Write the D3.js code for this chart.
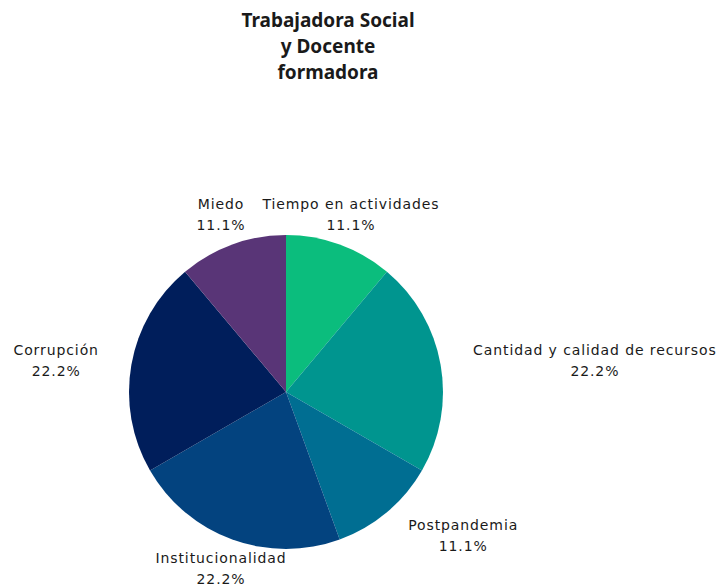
<!DOCTYPE html>
<html>
<head>
<meta charset="utf-8">
<script src="https://cdn.jsdelivr.net/npm/d3@7"></script>
<style>
  body { margin: 0; background: #fff; }
  text { font-family: "Noto Sans", sans-serif; fill: #1a1a1a; }
</style>
</head>
<body>
<div id="chart"></div>
<script>
// Data
const categories = ["Tiempo en actividades", "Cantidad y calidad de recursos", "Postpandemia",
                    "Institucionalidad", "Corrupción", "Miedo"];
const counts = [1, 2, 1, 2, 2, 1];
const colors = ["#0bbd7d", "#00958f", "#006e92", "#03437f", "#001e5b", "#593577"];
const titleLines = ["Trabajadora Social", "y Docente", "formadora"];

const width = 719;
const height = 587;
const cx = 286, cy = 392;
const radius = 157;
const labelRadius = 190;

const svg = d3.select("#chart")
    .append("svg")
    .attr("width", width)
    .attr("height", height);

// Title
svg.append("g")
    .selectAll("text")
    .data(titleLines)
    .enter().append("text")
    .attr("x", 328)
    .attr("y", (d, i) => 27 + i * 26)
    .attr("text-anchor", "middle")
    .attr("font-size", "19px")
    .attr("font-weight", "bold")
    .text(d => d);

const total = d3.sum(counts);
const pie = d3.pie().sort(null).value(d => d)(counts);
const arc = d3.arc().innerRadius(0).outerRadius(radius);
const labelArc = d3.arc().innerRadius(labelRadius).outerRadius(labelRadius);

const g = svg.append("g").attr("transform", `translate(${cx},${cy})`);

g.selectAll("path")
    .data(pie)
    .enter().append("path")
    .attr("d", arc)
    .attr("fill", (d, i) => colors[i]);

// Labels: two lines, centred on each other
const fmt = d3.format(".1%");
pie.forEach((d, i) => {
    const [lx, ly] = labelArc.centroid(d);
    const mid = (d.startAngle + d.endAngle) / 2;
    const s = Math.sin(mid);
    const lines = [categories[i], fmt(d.value / total)];
    const lab = g.append("g");
    const texts = lab.selectAll("text")
        .data(lines)
        .enter().append("text")
        .attr("text-anchor", "middle")
        .style("font-family", "'DejaVu Sans', sans-serif")
        .style("font-size", "14px")
        .style("letter-spacing", "0.9px")
        .attr("y", (t, j) => j * 21)
        .text(t => t);
    const w = d3.max(texts.nodes(), n => n.getComputedTextLength());
    let x = lx;
    if (s > 0.5) x = lx + w / 2;
    else if (s < -0.5) x = lx - w / 2;
    const dy = Math.cos(mid) < -0.5 ? -8 : -4;
    lab.attr("transform", `translate(${x},${ly + dy})`);
});
</script>
</body>
</html>
